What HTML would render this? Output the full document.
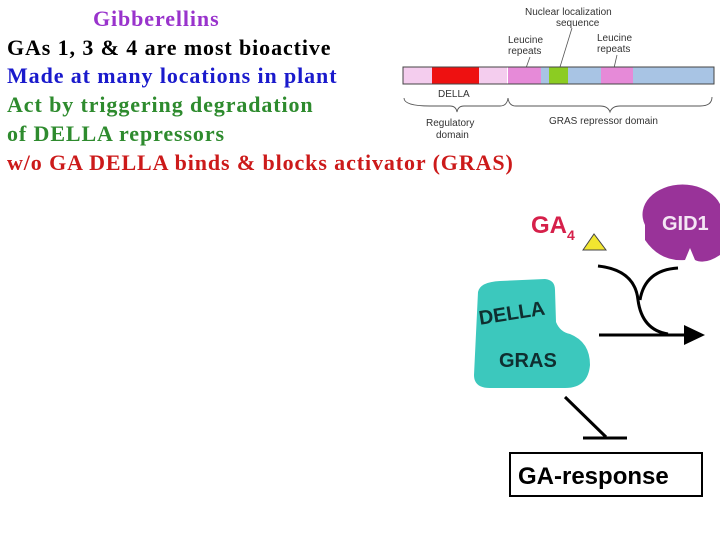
<!DOCTYPE html>
<html><head><style>
body{margin:0;width:720px;height:540px;background:#fff;overflow:hidden;position:relative;font-family:"Liberation Serif",serif;}
.t{position:absolute;font-weight:bold;font-size:22px;letter-spacing:0.9px;white-space:nowrap;}
</style></head><body>
<div class="t" style="left:93px;top:6px;color:#9933cc">Gibberellins</div>
<div class="t" style="left:7px;top:35px;color:#000">GAs 1, 3 &amp; 4 are most bioactive</div>
<div class="t" style="left:7px;top:63px;color:#1a1acc">Made at many locations in plant</div>
<div class="t" style="left:7px;top:92px;color:#2e8b2e">Act by triggering degradation</div>
<div class="t" style="left:7px;top:121px;color:#2e8b2e">of DELLA repressors</div>
<div class="t" style="left:7px;top:150px;color:#cc1a1a">w/o GA DELLA binds &amp; blocks activator (GRAS)</div>
<svg width="720" height="540" style="position:absolute;left:0;top:0" font-family="Liberation Sans, sans-serif">
<g font-size="10" fill="#333">
<text x="525" y="15">Nuclear localization</text>
<text x="556" y="26">sequence</text>
<text x="508" y="43">Leucine</text><text x="508" y="54">repeats</text>
<text x="597" y="41">Leucine</text><text x="597" y="52">repeats</text>
<text x="438" y="97">DELLA</text>
<text x="426" y="126">Regulatory</text><text x="436" y="138">domain</text>
<text x="549" y="124">GRAS repressor domain</text>
</g>
<line x1="572" y1="28" x2="560" y2="67" stroke="#555" stroke-width="0.8"/>
<line x1="530" y1="57" x2="526" y2="68" stroke="#555" stroke-width="0.8"/>
<line x1="617" y1="55" x2="614" y2="68" stroke="#555" stroke-width="0.8"/>
<g stroke="none">
<rect x="403" y="67" width="29" height="17" fill="#f4cdee"/>
<rect x="432" y="67" width="47" height="17" fill="#ee1111"/>
<rect x="479" y="67" width="28" height="17" fill="#f4cdee"/>
<rect x="508" y="67" width="33" height="17" fill="#e68ad8"/>
<rect x="541" y="67" width="8" height="17" fill="#a8c4e4"/>
<rect x="549" y="67" width="19" height="17" fill="#8ccc22"/>
<rect x="568" y="67" width="33" height="17" fill="#a8c4e4"/>
<rect x="601" y="67" width="32" height="17" fill="#e68ad8"/>
<rect x="633" y="67" width="81" height="17" fill="#a8c4e4"/>
</g>
<rect x="403" y="67" width="311" height="17" fill="none" stroke="#444" stroke-width="1"/>
<path d="M404 98 Q404 106 430 106 L450 106 Q456 106 457 112 Q458 106 464 106 L500 106 Q507 106 508 98 Q509 106 516 106 L600 106 Q608 106 610 112 Q612 106 620 106 L700 106 Q712 106 712 97" fill="none" stroke="#555" stroke-width="0.9"/>
<text x="531" y="233" font-size="24" font-weight="bold" fill="#d6204a">GA</text>
<text x="567" y="240" font-size="14" font-weight="bold" fill="#d6204a">4</text>
<polygon points="583,250 594,234 606,250" fill="#f2e630" stroke="#444" stroke-width="1"/>
<path d="M645 225 A40 30 0 1 1 720 225 L720 255 Q705 265 695 260 L690 248 L685 260 Q660 262 645 240 Z" fill="#993399"/>
<text x="662" y="230" font-size="20" font-weight="bold" fill="#f4e6f4">GID1</text>
<path d="M598 266 Q635 270 638 300 Q642 330 668 334 M678 268 Q645 270 640 300" fill="none" stroke="#000" stroke-width="3"/>
<line x1="599" y1="335" x2="688" y2="335" stroke="#000" stroke-width="3"/>
<polygon points="684,325 705,335 684,345" fill="#000"/>
<path d="M478 292 Q480 282 500 281 L545 279 Q555 280 555 290 L556 322 Q560 332 570 334 Q590 342 590 365 Q588 388 565 388 L490 388 Q474 388 474 375 Z" fill="#3cc8bd"/>
<text x="478" y="320" font-size="20" font-weight="bold" fill="#0f2f30" transform="rotate(-9 510 310)">DELLA</text>
<text x="499" y="367" font-size="20" font-weight="bold" fill="#0f2f30">GRAS</text>
<line x1="565" y1="397" x2="606" y2="437" stroke="#000" stroke-width="3"/>
<line x1="583" y1="438" x2="627" y2="438" stroke="#000" stroke-width="3"/>
<rect x="510" y="453" width="192" height="43" fill="#fff" stroke="#000" stroke-width="2"/>
<text x="518" y="484" font-size="24" font-weight="bold" fill="#000">GA-response</text>
</svg>
</body></html>
